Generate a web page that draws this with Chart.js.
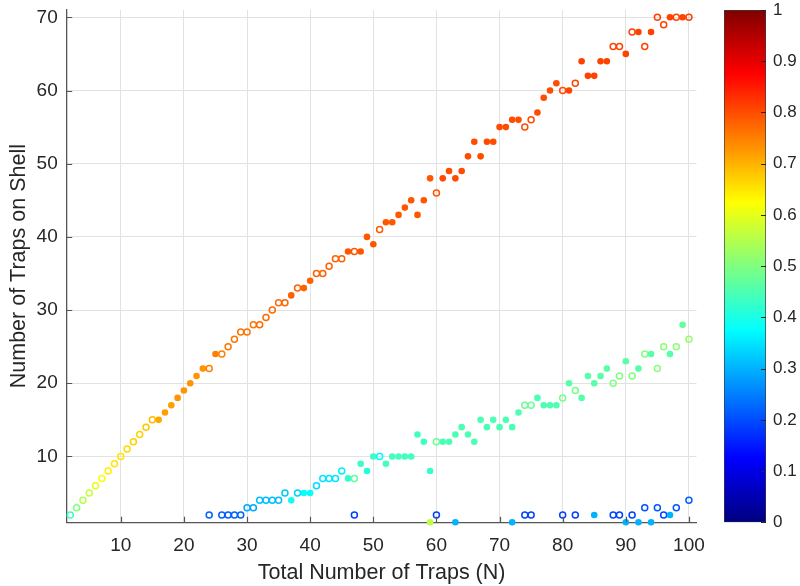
<!DOCTYPE html>
<html><head><meta charset="utf-8">
<script src="https://cdn.jsdelivr.net/npm/chart.js@4/dist/chart.umd.min.js"></script>
<style>
html,body{margin:0;padding:0;background:#fff;}
#wrap{position:relative;width:800px;height:586px;overflow:hidden;}
#main{position:absolute;left:0;top:0;width:800px;height:586px;}
#cb{position:absolute;left:700px;top:0;width:100px;height:586px;}
</style></head><body>
<div id="wrap">
<canvas id="main" width="800" height="586"></canvas>
<canvas id="cb" width="100" height="586"></canvas>
</div>
<script>
// ---------- data ----------
const X_TICKS = [10,20,30,40,50,60,70,80,90,100];
const Y_TICKS = [10,20,30,40,50,60,70];
const CB_TICKS = [0,0.1,0.2,0.3,0.4,0.5,0.6,0.7,0.8,0.9,1];

// Outer shell
const mainN = [2,3,4,5,6,7,8,9,10,11,12,13,14,15,
  16,17,18,19,20,21,22,23,
  24,25,26,27,28,29,30,31,32,33,34,35,
  36,37,38,39,40,41,42,43,44,45,
  46,47,48,49,50,
  51,52,53,54,55,56,57,58,59,60,
  61,62,63,64,65,66,67,68,69,70,
  71,72,73,74,75,76,77,78,79,80,
  81,82,83,84,85,86,87,88,89,90,
  91,92,93,94,95,96,97,98,99,100];
const mainCount = [2,3,4,5,6,7,8,9,10,11,12,13,14,15,
  15,16,17,18,19,20,21,22,
  22,24,24,25,26,27,27,28,28,29,30,31,
  31,32,33,33,34,35,35,36,37,37,
  38,38,38,40,39,
  41,42,42,43,44,45,43,45,48,46,
  48,49,48,49,51,53,51,53,53,55,
  55,56,56,55,56,57,59,60,61,60,
  60,61,64,62,62,64,64,66,66,65,
  68,68,66,68,70,69,70,70,70,70];
const mainColor = [.44,.50,.55,.57,.60,.62,.64,.65,.65,.66,.67,.67,.68,.69,
  .71,.72,.72,.73,.73,.73,.73,.73,
  .75,.75,.75,.76,.76,.76,.76,.76,.77,.77,.77,.77,
  .78,.78,.78,.78,.78,.78,.78,.78,.78,.78,
  .79,.79,.79,.79,.79,
  .79,.79,.79,.79,.79,.79,.79,.79,.79,.79,
  .80,.80,.80,.80,.80,.80,.80,.80,.80,.80,
  .80,.80,.80,.80,.80,.80,.80,.80,.80,.80,
  .81,.81,.81,.81,.81,.81,.81,.81,.81,.81,
  .81,.81,.81,.81,.81,.81,.81,.81,.81,.81];

// Second shell
const shell2N = [24,26,27,28,29,
  30,31,32,33,34,35,
  36,37,38,39,40,41,42,43,44,45,
  46,47,48,49,50,
  51,52,53,54,55,56,57,58,59,60,
  61,62,63,64,65,66,67,68,69,70,
  71,72,73,74,75,76,77,78,79,80,
  81,82,83,84,85,86,87,88,89,90,
  91,92,93,94,95,96,97,98,99,100];
const shell2Count = [2,2,2,2,2,
  3,3,4,4,4,4,
  5,4,5,5,5,6,7,7,7,8,
  7,7,9,8,10,
  10,9,10,10,10,10,13,12,8,12,
  12,12,13,14,13,12,15,14,15,14,
  15,14,16,17,17,18,17,17,17,18,
  20,19,18,21,20,21,22,20,21,23,
  21,22,24,24,22,25,24,25,28,26];
const shell2Color = [.22,.22,.22,.22,.22,
  .29,.29,.31,.31,.31,.31,
  .32,.39,.33,.38,.38,.34,.35,.35,.35,.36,
  .42,.47,.43,.41,.43,
  .37,.44,.44,.44,.44,.44,.44,.44,.43,.48,
  .45,.45,.45,.45,.45,.45,.45,.45,.45,.45,
  .45,.45,.45,.48,.48,.45,.45,.45,.45,.49,
  .46,.49,.46,.46,.46,.46,.46,.50,.50,.46,
  .50,.46,.50,.46,.51,.51,.46,.51,.47,.52];

// Third shell
const shell3N = [47,59,60,63,72,74,75,80,82,85,88,89,90,91,92,93,94,95,96,97,98,100];
const shell3Count = [2,1,2,1,1,2,2,2,2,2,2,2,1,2,1,3,1,3,2,2,3,4];
const shell3Color = [.19,.56,.19,.30,.30,.19,.19,.19,.19,.30,.19,.19,.30,.19,.30,.21,.30,.21,.19,.30,.21,.22];

// Configurations drawn with open markers
const hollowN = [2,3,4,5,6,7,8,9,10,11,12,13,14,15,24,26,27,28,29,30,31,32,33,34,35,36,38,
  41,42,43,44,45,47,51,60,74,75,80,82,88,89,91,93,95,96,98,100];

// ---------- helpers ----------
function jet(v){
  const c = t => Math.max(0, Math.min(1, t));
  const r = c(1.5 - Math.abs(4*v - 3)), g = c(1.5 - Math.abs(4*v - 2)), b = c(1.5 - Math.abs(4*v - 1));
  return 'rgb(' + Math.round(r*255) + ',' + Math.round(g*255) + ',' + Math.round(b*255) + ')';
}
const FONT = 'Liberation Sans, Arial, Helvetica, sans-serif';
const TXT = '#262626';
const AXIS = '#555555';

function noPad(s){ s.paddingTop = 0; s.paddingBottom = 0; s.paddingLeft = 0; s.paddingRight = 0; }

function makeSet(ns, counts, cols){
  const hollow = ns.map(n => hollowN.includes(n));
  return {
    data: ns.map((n,i) => ({x:n, y:counts[i]})),
    pointStyle: 'circle',
    pointRadius: hollow.map(h => h ? 3 : 3.3),
    pointBorderWidth: hollow.map(h => h ? 1.5 : 0),
    pointBorderColor: cols.map(v => jet(v)),
    pointBackgroundColor: cols.map((v,i) => hollow[i] ? 'rgba(0,0,0,0)' : jet(v)),
    showLine: false,
    clip: false
  };
}

const inTicks = {
  id: 'inTicks',
  afterDatasetsDraw(chart){
    const {ctx, chartArea: a, scales: {x, y}} = chart;
    ctx.save();
    ctx.strokeStyle = AXIS; ctx.lineWidth = 1.2;
    ctx.beginPath();
    X_TICKS.forEach(v => { const p = Math.round(x.getPixelForValue(v)) + 0.5; ctx.moveTo(p, a.bottom); ctx.lineTo(p, a.bottom - 5.5); });
    Y_TICKS.forEach(v => { const p = Math.round(y.getPixelForValue(v)) + 0.5; ctx.moveTo(a.left, p); ctx.lineTo(a.left + 5.5, p); });
    ctx.stroke();
    ctx.restore();
  }
};

new Chart(document.getElementById('main'), {
  type: 'scatter',
  data: { datasets: [
    makeSet(shell3N, shell3Count, shell3Color),
    makeSet(shell2N, shell2Count, shell2Color),
    makeSet(mainN, mainCount, mainColor)
  ]},
  options: {
    responsive: false, animation: false,
    layout: { padding: { top: 10, right: 103.5, left: 0, bottom: 0 } },
    plugins: { legend: { display: false }, tooltip: { enabled: false } },
    scales: {
      x: {
        type: 'linear', min: 1.43, max: 101.2,
        afterBuildTicks: s => { s.ticks = X_TICKS.map(v => ({value: v})); },
        afterFit: s => { s.height = 63.7; noPad(s); },
        grid: { color: '#e2e2e2', drawTicks: false },
        border: { color: AXIS, width: 1.3 },
        ticks: { padding: 12, color: TXT, font: { family: FONT, size: 19 }, maxRotation: 0, autoSkip: false },
        title: { display: true, text: 'Total Number of Traps (N)', color: TXT, font: { family: FONT, size: 21.5 }, padding: { top: 0, bottom: 0 } }
      },
      y: {
        type: 'linear', min: 1, max: 71,
        afterBuildTicks: s => { s.ticks = Y_TICKS.map(v => ({value: v})); },
        afterFit: s => { s.width = 66.7; noPad(s); },
        grid: { color: '#e2e2e2', drawTicks: false },
        border: { color: AXIS, width: 1.3 },
        ticks: { padding: 9, color: TXT, font: { family: FONT, size: 19 }, autoSkip: false },
        title: { display: true, text: 'Number of Traps on Shell', color: TXT, font: { family: FONT, size: 21.5 }, padding: { top: 6, bottom: 0 } }
      }
    }
  },
  plugins: [inTicks]
});

// ---------- colorbar ----------
const cbTicks = {
  id: 'cbTicks',
  afterDatasetsDraw(chart){
    const {ctx, chartArea: a, scales: {y}} = chart;
    ctx.save();
    ctx.strokeStyle = '#262626'; ctx.lineWidth = 1;
    ctx.beginPath();
    CB_TICKS.forEach(v => { const p = Math.round(y.getPixelForValue(v)) + 0.5; ctx.moveTo(a.right - 5, p); ctx.lineTo(a.right, p); });
    ctx.stroke();
    ctx.restore();
  }
};
new Chart(document.getElementById('cb'), {
  type: 'bar',
  data: { labels: ['c'], datasets: [{
    data: [[CB_TICKS[0], CB_TICKS[CB_TICKS.length - 1]]],
    backgroundColor: ctx => {
      const ca = ctx.chart.chartArea;
      if (!ca) return '#000';
      const g = ctx.chart.ctx.createLinearGradient(0, ca.bottom, 0, ca.top);
      for (let i = 0; i <= 64; i++) g.addColorStop(i/64, jet(i/64));
      return g;
    },
    borderColor: '#3a3a3a', borderWidth: 1, borderSkipped: false,
    barPercentage: 1, categoryPercentage: 1
  }]},
  options: {
    responsive: false, animation: false,
    layout: { padding: { top: 10, left: 24, right: 0, bottom: 63.7 } },
    plugins: { legend: { display: false }, tooltip: { enabled: false } },
    scales: {
      x: { display: false },
      y: {
        position: 'right', min: 0, max: 1,
        afterBuildTicks: s => { s.ticks = CB_TICKS.map(v => ({value: v})); },
        afterFit: s => { s.width = 34; noPad(s); },
        grid: { display: false, drawTicks: false },
        border: { display: false },
        ticks: { padding: 7, color: TXT, font: { family: FONT, size: 17 }, callback: v => String(v) }
      }
    }
  },
  plugins: [cbTicks]
});
</script>
</body></html>
